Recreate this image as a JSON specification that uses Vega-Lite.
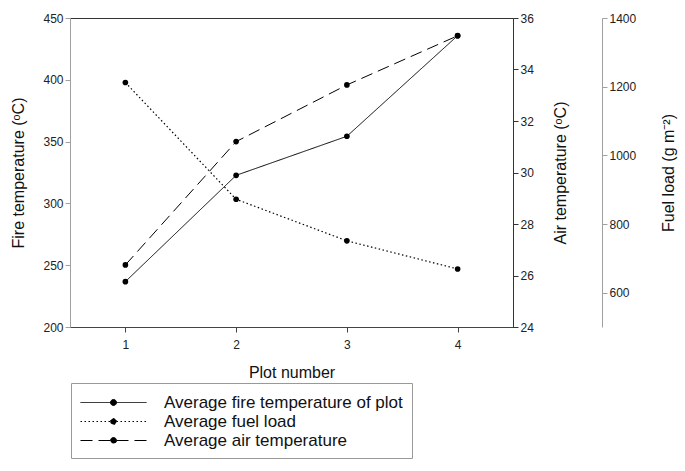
{
  "$schema": "https://vega.github.io/schema/vega-lite/v6.json",
  "width": 443,
  "height": 309,
  "autosize": {"type": "none"},
  "padding": {"left": 70, "top": 18, "right": 172, "bottom": 144},
  "background": "white",
  "config": {
    "font": "Liberation Sans",
    "view": {"stroke": "#333333", "strokeWidth": 1},
    "axis": {
      "labelFontSize": 12,
      "labelColor": "#222222",
      "titleFontSize": 16,
      "titleFontWeight": "normal",
      "titleColor": "#111111",
      "grid": false,
      "tickSize": 5,
      "labelFont": "Liberation Sans",
      "titleFont": "Liberation Sans"
    },
    "legend": {"labelFont": "Liberation Sans"}
  },
  "data": {
    "values": [
      {"plot": 1, "fire": 236.7, "air": 26.41, "fuel": 1212},
      {"plot": 2, "fire": 322.7, "air": 31.2, "fuel": 872},
      {"plot": 3, "fire": 354.3, "air": 33.4, "fuel": 751},
      {"plot": 4, "fire": 435.7, "air": 35.31, "fuel": 669}
    ]
  },
  "encoding": {
    "x": {
      "field": "plot",
      "type": "quantitative",
      "scale": {"domain": [0.5, 4.5], "nice": false},
      "axis": {
        "values": [1, 2, 3, 4],
        "title": "Plot number",
        "domainColor": "#444444",
        "tickColor": "#444444",
        "labelPadding": 7,
        "titlePadding": 14
      }
    }
  },
  "layer": [
    {
      "mark": {"type": "line", "color": "black", "strokeWidth": 1, "point": {"filled": true, "size": 32, "color": "black"}},
      "encoding": {
        "y": {
          "field": "fire",
          "type": "quantitative",
          "scale": {"domain": [200, 450], "nice": false, "zero": false},
          "axis": {
            "orient": "left",
            "title": "Fire temperature (ᵒC)",
            "values": [200, 250, 300, 350, 400, 450],
            "domainColor": "#a0a0a0",
            "tickColor": "#a0a0a0",
            "titlePadding": 16
          }
        },
        "strokeDash": {
          "datum": "Average fire temperature of plot",
          "scale": {
            "domain": ["Average fire temperature of plot", "Average fuel load", "Average air temperature"],
            "range": [[1, 0], [1.5, 2.5], [12, 6]]
          },
          "legend": {
            "orient": "none",
            "legendX": 1,
            "legendY": 365,
            "title": null,
            "strokeColor": "#999999",
            "padding": 9,
            "labelFontSize": 17,
            "labelColor": "#111111",
            "labelLimit": 400,
            "labelOffset": 40,
            "symbolOffset": 23,
            "rowPadding": 0,
            "symbolType": "M-3.3,0H3.3M-0.3,0A0.3,0.3 0 1,1 0.3,0A0.3,0.3 0 1,1 -0.3,0Z",
            "symbolSize": 400,
            "symbolStrokeWidth": 1,
            "symbolStrokeColor": "black",
            "symbolFillColor": "black",
            "encode": {
              "symbols": {
                "update": {
                  "stroke": {"value": "black"},
                  "strokeWidth": {"value": 1},
                  "fill": {"value": "black"}
                }
              }
            }
          }
        }
      }
    },
    {
      "mark": {"type": "line", "color": "black", "strokeWidth": 1, "point": {"filled": true, "size": 32, "color": "black"}},
      "encoding": {
        "y": {
          "field": "air",
          "type": "quantitative",
          "scale": {"domain": [24, 36], "nice": false, "zero": false},
          "axis": {
            "orient": "right",
            "title": "Air temperature (ᵒC)",
            "values": [24, 26, 28, 30, 32, 34, 36],
            "domainColor": "#333333",
            "tickColor": "#333333",
            "titleAngle": 270,
            "titlePadding": 35
          }
        },
        "strokeDash": {"datum": "Average air temperature"}
      }
    },
    {
      "mark": {"type": "line", "color": "black", "strokeWidth": 1.2, "point": {"filled": true, "size": 32, "color": "black"}},
      "encoding": {
        "y": {
          "field": "fuel",
          "type": "quantitative",
          "scale": {"domain": [500, 1400], "nice": false, "zero": false},
          "axis": {
            "orient": "right",
            "offset": 89,
            "title": "Fuel load (g m⁻²)",
            "format": "d",
            "values": [600, 800, 1000, 1200, 1400],
            "domainColor": "#a0a0a0",
            "tickColor": "#a0a0a0",
            "titleAngle": 270,
            "titlePadding": 41
          }
        },
        "strokeDash": {"datum": "Average fuel load"}
      }
    }
  ],
  "resolve": {"scale": {"y": "independent"}}
}
